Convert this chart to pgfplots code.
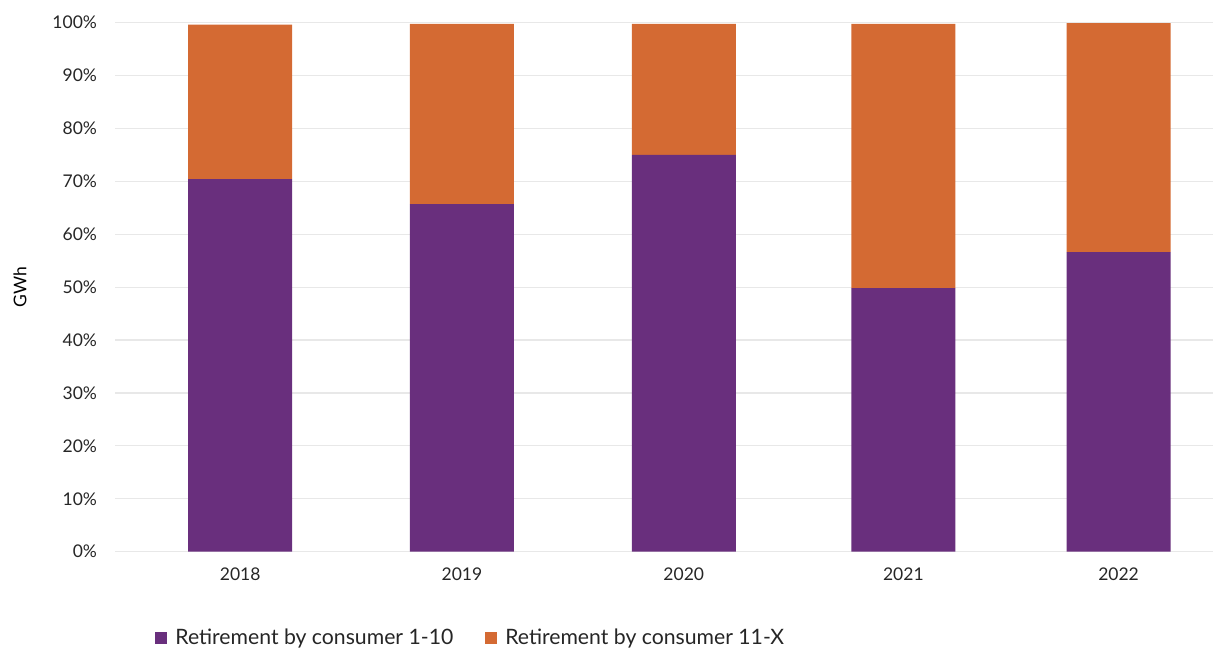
\documentclass[border=0pt]{standalone}
\usepackage{fontspec}
\setmainfont{Lato}
\usepackage{pgfplots}
\pgfplotsset{compat=1.18}
\usetikzlibrary{calc}
\definecolor{cpurple}{HTML}{692F7D}
\definecolor{corange}{HTML}{D46A33}
\definecolor{cgrid}{HTML}{E8E8E8}
\begin{document}
\fontsize{17.5bp}{20bp}\selectfont
\begin{tikzpicture}
\begin{axis}[
  scale only axis,
  width=1098bp, height=529.2bp,
  ybar stacked,
  bar width=104bp,
  xmin=-0.57, xmax=4.43,
  ymin=0, ymax=100,
  xtick={0,1.01,2.02,3.02,4},
  xticklabels={2018,2019,2020,2021,2022},
  ytick={0,10,...,100},
  yticklabel={\pgfmathprintnumber{\tick}\%},
  /pgf/number format/assume math mode=true,
  axis line style={draw=none},
  major tick length=0pt,
  ymajorgrids,
  grid style={cgrid, line width=1.2pt},
  tick label style={font=\fontsize{17.5bp}{20bp}\selectfont, black!85},
  yticklabel style={xshift=-12bp},
  xticklabel style={yshift=-10bp},
  ylabel={GWh},
  ylabel style={font=\fontsize{17.5bp}{20bp}\selectfont, black!85},
  every axis y label/.style={at={(axis description cs:0,0.5)}, xshift=-95bp, rotate=90, anchor=center},
  legend style={at={(axis description cs:0.324,-0.163)}, anchor=center, draw=none,
    legend columns=2, font=\fontsize{21.2bp}{24bp}\selectfont, text=black!85,
    /tikz/every odd column/.append style={column sep=6bp},
    /tikz/every even column/.append style={column sep=30bp}},
  legend image code/.code={\fill[#1] (0cm,-6bp) rectangle (12bp,6bp);},
  clip=false,
]
\addplot[fill=cpurple, draw=none] coordinates {(0,70.4) (1.01,65.7) (2.02,75.0) (3.02,49.8) (4,56.6)};
\addplot[fill=corange, draw=none] coordinates {(0,29.2) (1.01,34.05) (2.02,24.75) (3.02,49.95) (4,43.3)};
\legend{Retirement by consumer 1-10, Retirement by consumer 11-X}
\end{axis}
\pgfresetboundingbox
\path[use as bounding box] ($(current axis.south west)+(-115bp,-101.3bp)$) rectangle ($(current axis.north east)+(0,22.5bp)$);
\end{tikzpicture}
\end{document}
